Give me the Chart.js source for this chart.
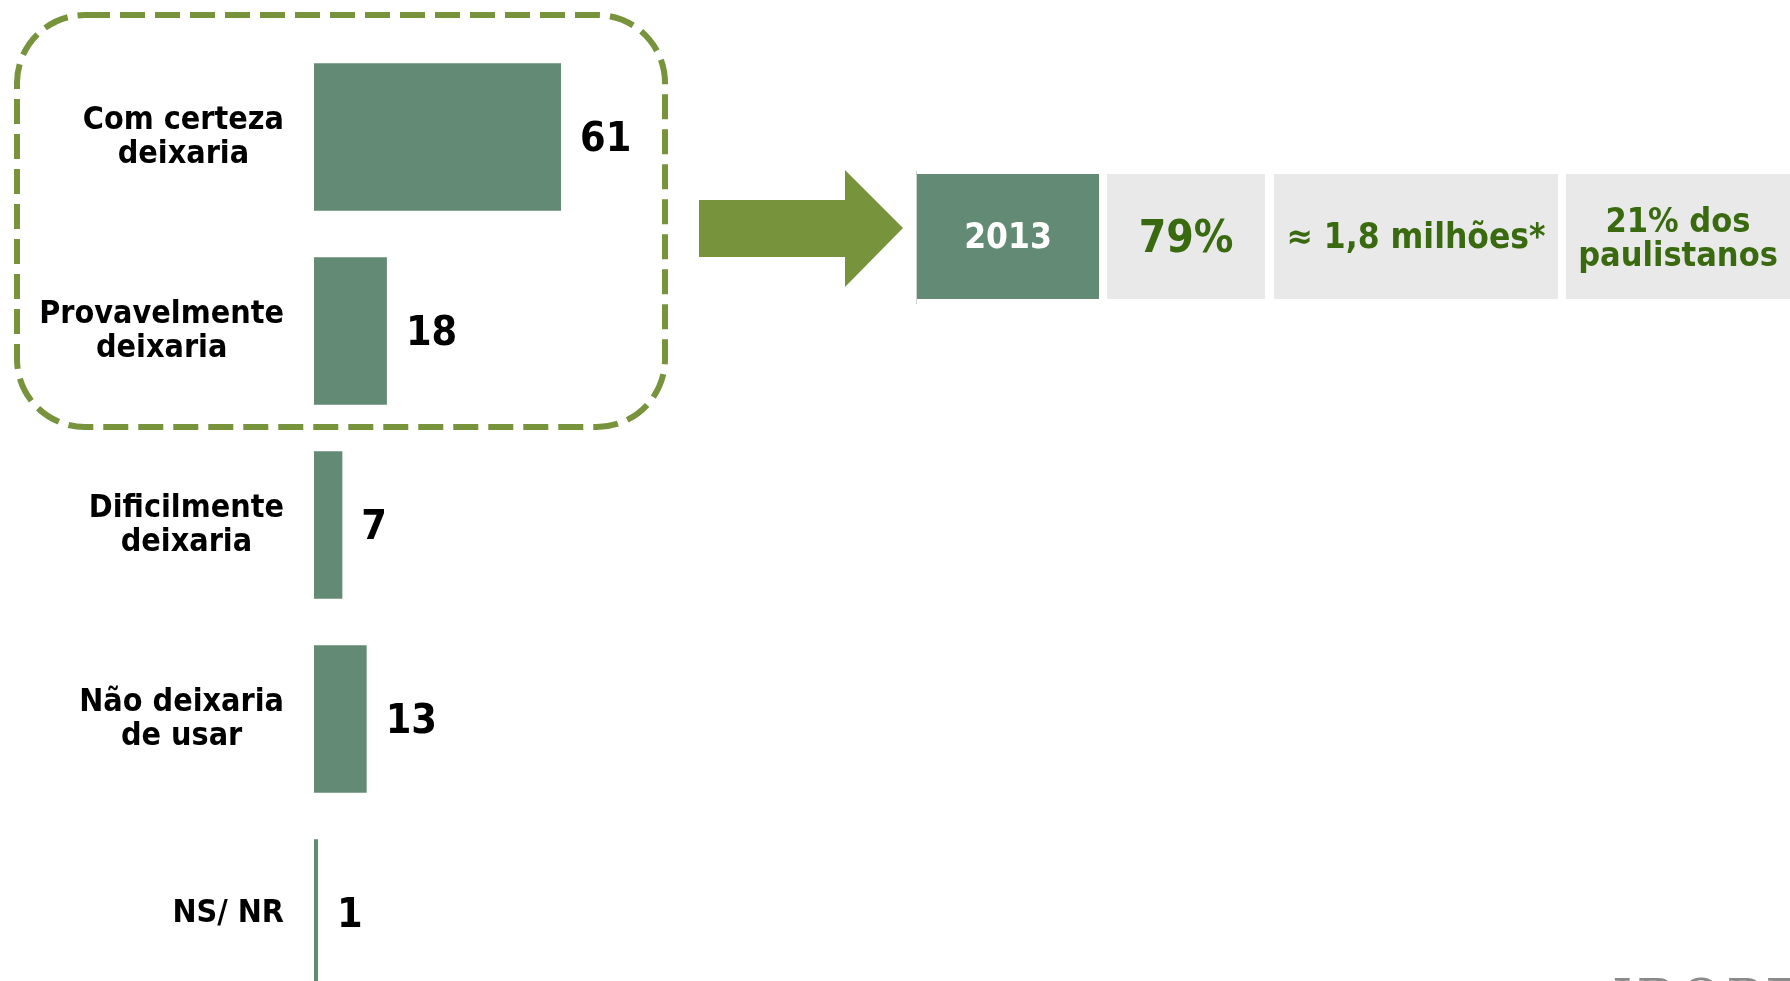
<!DOCTYPE html>
<html>
<head>
<meta charset="utf-8">
<script src="https://cdn.jsdelivr.net/npm/chart.js@4.4.1/dist/chart.umd.min.js"></script>
<style>
  html, body { margin: 0; padding: 0; background: #fff; overflow: hidden; width: 1790px; height: 981px; }
  #wrap { position: absolute; left: 0; top: 0; width: 1790px; height: 1030px; }
  #grafico { width: 1790px; height: 1030px; }
  .cell { position: absolute; top: 174px; height: 125px; display: flex; align-items: center; justify-content: center;
          text-align: center; font-family: "DejaVu Sans Condensed", "DejaVu Sans", sans-serif; font-weight: bold; color: #3a6a10; line-height: 1.0; }
  #sep { position: absolute; left: 916px; top: 171px; width: 1px; height: 133px; background: #d0d0d0; }
  #ibope { position: absolute; left: 1612px; top: 968px; font-family: "DejaVu Serif", serif; font-size: 52px; color: #8a8a8a; letter-spacing: 4px; }
</style>
</head>
<body>
<div id="wrap"><canvas id="grafico" width="1790" height="1030"></canvas></div>
<div id="sep"></div>
<div id="tabela"></div>
<div id="ibope">IBOPE</div>
<script>
const categorias = [
  ['Com certeza', 'deixaria'],
  ['Provavelmente', 'deixaria'],
  ['Dificilmente', 'deixaria'],
  ['Não deixaria', 'de usar'],
  ['NS/ NR']
];
const valores = [61, 18, 7, 13, 1];

// quadro da direita
const tabelaTextos = ['2013', '79%', '≈ 1,8 milhões*', '21% dos<br>paulistanos'];
const tabelaX = [917, 1107, 1274, 1566];
const tabelaLarg = [182, 158, 284, 224];
const tabelaFonte = [35, 44, 35, 34];

const tabela = document.getElementById('tabela');
tabelaTextos.forEach((t, i) => {
  const d = document.createElement('div');
  d.className = 'cell';
  d.style.left = tabelaX[i] + 'px';
  d.style.width = tabelaLarg[i] + 'px';
  d.style.fontSize = tabelaFonte[i] + 'px';
  d.style.background = i === 0 ? '#638a74' : '#e9e9e9';
  if (i === 0) d.style.color = '#ffffff';
  d.innerHTML = t;
  tabela.appendChild(d);
});

const verde = '#77933c';
const fonte = '"DejaVu Sans Condensed", "DejaVu Sans"';

const extras = {
  id: 'extras',
  afterDraw(chart) {
    const ctx = chart.ctx;
    const escalaY = chart.scales.y;
    ctx.save();

    // rotulos das categorias (bloco alinhado a direita, linhas centradas)
    ctx.font = 'bold 32px ' + fonte;
    ctx.fillStyle = '#000';
    ctx.textAlign = 'center';
    ctx.textBaseline = 'middle';
    const alturaLinha = 34;
    categorias.forEach((linhas, i) => {
      const y = escalaY.getPixelForValue(i);
      const larg = Math.max(...linhas.map(l => ctx.measureText(l).width));
      const cx = 284 - larg / 2;
      linhas.forEach((l, j) => {
        ctx.fillText(l, cx, y + 1 + (j - (linhas.length - 1) / 2) * alturaLinha);
      });
    });

    // rotulos dos valores
    const meta = chart.getDatasetMeta(0);
    ctx.font = 'bold 41px ' + fonte;
    ctx.textAlign = 'left';
    meta.data.forEach((bar, i) => {
      ctx.fillText(valores[i], bar.x + 19, bar.y + 3);
    });

    // caixa tracejada
    ctx.strokeStyle = verde;
    ctx.lineWidth = 6;
    ctx.setLineDash([25, 10]);
    ctx.beginPath();
    ctx.roundRect(17, 15, 648, 412, 68);
    ctx.stroke();
    ctx.setLineDash([]);

    // seta
    ctx.fillStyle = verde;
    ctx.beginPath();
    ctx.moveTo(699, 200);
    ctx.lineTo(845, 200);
    ctx.lineTo(845, 170);
    ctx.lineTo(903, 228);
    ctx.lineTo(845, 287);
    ctx.lineTo(845, 257);
    ctx.lineTo(699, 257);
    ctx.closePath();
    ctx.fill();
    ctx.restore();
  }
};

const graficoCanvas = document.getElementById('grafico');

const grafico = new Chart(graficoCanvas, {
  type: 'bar',
  data: {
    labels: categorias,
    datasets: [{
      data: valores,
      backgroundColor: '#638a74',
      borderWidth: 0,
      barPercentage: 0.76,
      categoryPercentage: 1
    }]
  },
  options: {
    indexAxis: 'y',
    responsive: false,
    animation: false,
    layout: { padding: { top: 40, bottom: 20, left: 0, right: 1790 - 314 - 405 } },
    plugins: { legend: { display: false }, tooltip: { enabled: false } },
    scales: {
      x: { display: false, min: 0, max: 100 },
      y: {
        grid: { display: false },
        border: { display: false },
        ticks: { display: false },
        afterFit(scale) {
          scale.width = 314;
          scale.paddingTop = 0;
          scale.paddingBottom = 0;
        }
      }
    }
  },
  plugins: [extras]
});
</script>
</body>
</html>
